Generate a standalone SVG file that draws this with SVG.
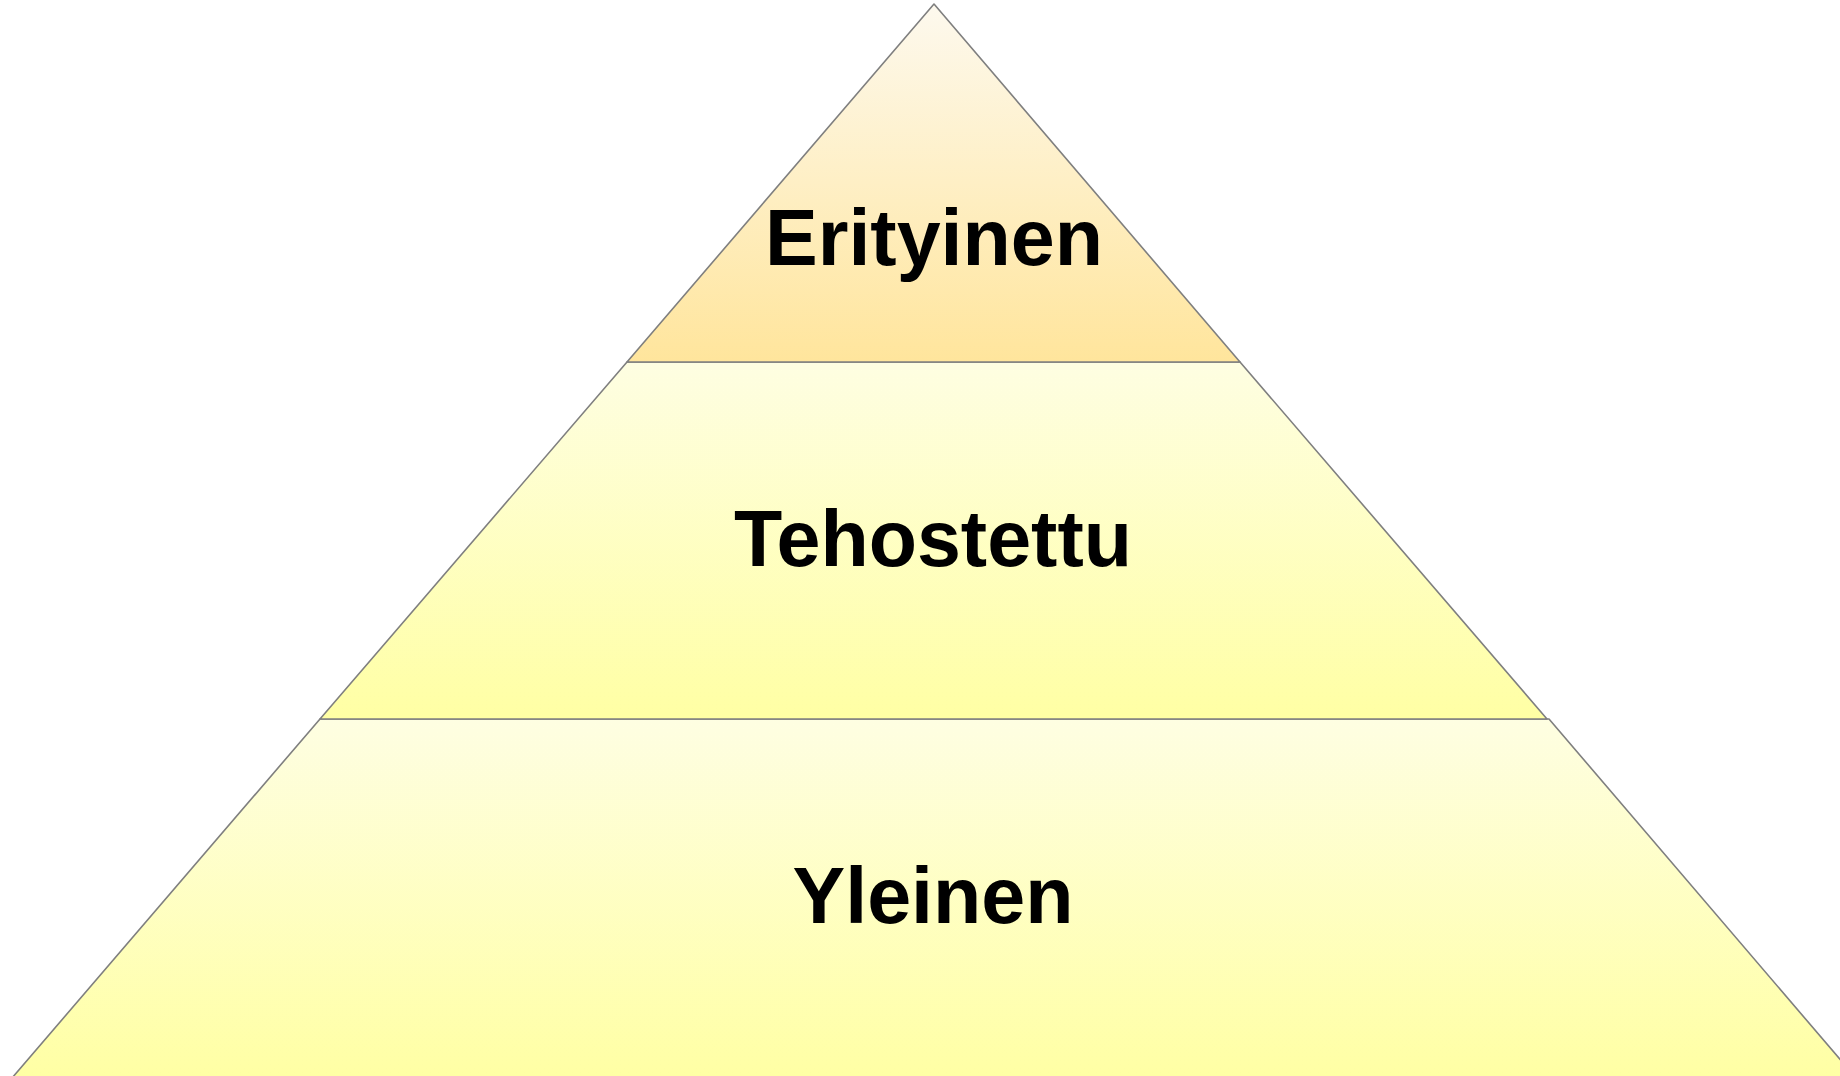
<svg xmlns="http://www.w3.org/2000/svg" width="1840" height="1076" viewBox="0 0 1840 1076">
  <defs>
    <linearGradient id="gTop" x1="0" y1="0" x2="0" y2="1">
      <stop offset="0" stop-color="#fdf9ee"/>
      <stop offset="1" stop-color="#ffe59c"/>
    </linearGradient>
    <linearGradient id="gYel" x1="0" y1="0" x2="0" y2="1">
      <stop offset="0" stop-color="#fefee2"/>
      <stop offset="1" stop-color="#ffffa4"/>
    </linearGradient>
  </defs>
  <style>
    .layer { stroke: #7f7f7f; stroke-width: 1.6; stroke-linejoin: round; }
    .lbl { font-family: "Liberation Sans", Arial, sans-serif; font-weight: bold; font-size: 79px; fill: #000000; text-anchor: middle; }
  </style>
  <rect width="1840" height="1076" fill="#ffffff"/>
  <g id="layer-bottom">
    <polygon class="layer" fill="url(#gYel)" points="320,719 1549,719 1856,1078 12,1078"/>
    <text class="lbl" x="933" y="923">Yleinen</text>
  </g>
  <g id="layer-middle">
    <polygon class="layer" fill="url(#gYel)" points="627,362 1240,362 1547,719 320,719"/>
    <text class="lbl" x="933" y="566">Tehostettu</text>
  </g>
  <g id="layer-top">
    <polygon class="layer" fill="url(#gTop)" points="934,4 1240,362 627,362"/>
    <text class="lbl" x="934" y="265">Erityinen</text>
  </g>
  <g id="connectors"/>
</svg>
